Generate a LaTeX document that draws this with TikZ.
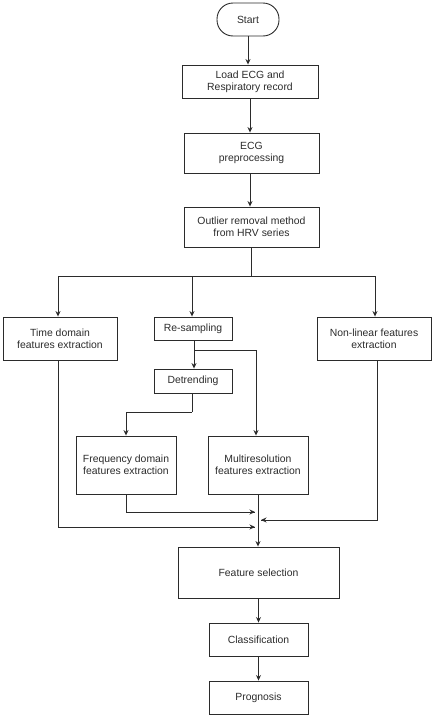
\documentclass[tikz,border=0pt]{standalone}
\usepackage{fontspec}
\setmainfont{Liberation Sans}
\usetikzlibrary{arrows.meta}
\definecolor{ink}{HTML}{2B2B2B}
\begin{document}
\begin{tikzpicture}[x=1pt,y=-1pt,
  box/.style={draw=ink,line width=0.9pt,rectangle,align=center,inner sep=1pt,
    font=\fontsize{10.4}{12}\selectfont,text=ink},
  term/.style={box,rounded corners=16pt},
  arr/.style={draw=ink,line width=0.9pt,-{Stealth[length=5.5pt,width=5pt]}},
  ln/.style={draw=ink,line width=0.9pt}]
\useasboundingbox (0,0) rectangle (434,718);
\node[term,minimum width=62pt,minimum height=33pt] (start) at (248,19.5) {Start};
\node[box,minimum width=136pt,minimum height=33pt] (load) at (250,81.5) {Load ECG and\\Respiratory record};
\node[box,minimum width=135pt,minimum height=40pt] (prep) at (251.5,153) {ECG\\preprocessing};
\node[box,minimum width=135pt,minimum height=40pt] (outl) at (251.5,227) {Outlier removal method\\from HRV series};
\node[box,minimum width=114pt,minimum height=43pt] (time) at (60,338.5) {Time domain\\features extraction};
\node[box,minimum width=78pt,minimum height=23pt] (resamp) at (193,328.5) {Re-sampling};
\node[box,minimum width=114pt,minimum height=43pt] (nonlin) at (374,338.5) {Non-linear features\\extraction};
\node[box,minimum width=78pt,minimum height=24pt] (detr) at (193,381) {Detrending};
\node[box,minimum width=100pt,minimum height=58pt] (freq) at (126,465) {Frequency domain\\features extraction};
\node[box,minimum width=100pt,minimum height=58pt] (multi) at (258,465) {Multiresolution\\features extraction};
\node[box,minimum width=161pt,minimum height=51pt] (feat) at (258.5,572.5) {Feature selection};
\node[box,minimum width=99pt,minimum height=33pt] (class) at (258.5,639.5) {Classification};
\node[box,minimum width=99pt,minimum height=33pt] (prog) at (258.5,697.5) {Prognosis};
% coordinates
\coordinate (split) at (251,276);
\coordinate (rsplit) at (194,350);
\coordinate (dsplit) at (192,412);
\coordinate (jf) at (255,512);
\coordinate (jt) at (255,527);
\coordinate (jn) at (261,520);
% connectors
\draw[arr] (start.south) -- (start.south |- load.north);
\draw[arr] (load.south) -- (load.south |- prep.north);
\draw[arr] ([xshift=-1.5pt]prep.south) -- ([xshift=-1.5pt]outl.north);
\draw[ln] ([xshift=-0.5pt]outl.south) -- (split);
\draw[arr] (split) -| ([xshift=-2pt]time.north);
\draw[arr] (split) -| ([xshift=-1pt]resamp.north);
\draw[arr] (split) -| ([xshift=1pt]nonlin.north);
\draw[arr] ([xshift=1pt]resamp.south) -- ([xshift=1pt]detr.north);
\draw[arr] (rsplit) -| ([xshift=-2pt]multi.north);
\draw[ln] ([xshift=-1pt]detr.south) -- (dsplit);
\draw[arr] (dsplit) -| (freq.north);
\draw[ln] (freq.south) |- (jf);
\draw[arr] (freq.south |- jf) -- (jf);
\draw[ln] ([xshift=-2pt]time.south) |- (jt);
\draw[arr] ([xshift=-2pt]time.south |- jt) -- (jt);
\draw[ln] ([xshift=3pt]nonlin.south) |- (jn);
\draw[arr] ([xshift=3pt]nonlin.south |- jn) -- (jn);
\draw[arr] (multi.south) -- (multi.south |- feat.north);
\draw[arr] (feat.south) -- (class.north);
\draw[arr] (class.south) -- (prog.north);
\end{tikzpicture}
\end{document}
